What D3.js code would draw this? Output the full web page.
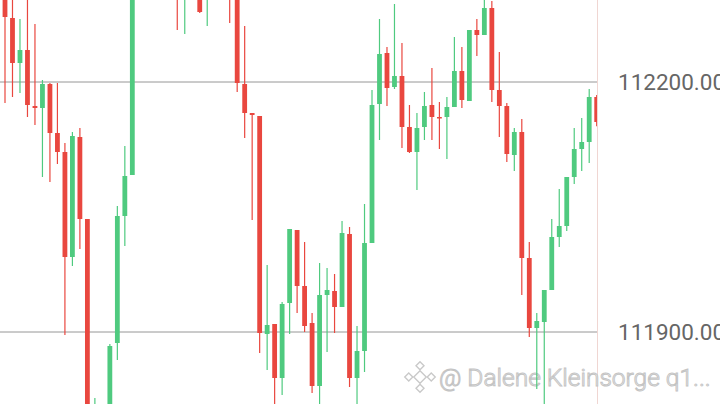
<!DOCTYPE html>
<html>
<head>
<meta charset="utf-8">
<script src="https://cdn.jsdelivr.net/npm/d3@7"></script>
<style>
  html, body { margin: 0; padding: 0; background: #fff; }
  svg { display: block; }
</style>
</head>
<body>
<svg id="chart"></svg>
<script>
// candle index, then open / high / low / close
var opens  = [112310.4,112276.8,112222.8,112238.4,112171.2,112168.8,112197.6,112138.8,112116.0,111990.0,
              112134.0,112035.6,111734.4,111782.4,111794.4,111886.8,112039.2,112088.4,112346.4,112382.4,
              112364.4,112394.4,112370.4,112346.4,112304.4,112334.4,112358.4,112304.4,112334.4,112352.4,
              112322.4,112304.4,112197.6,112162.8,112159.2,111897.6,111909.6,111844.8,111934.8,112022.4,
              111955.2,111910.8,111835.2,111944.4,111949.2,111930.0,112017.6,111844.8,111877.2,112006.8,
              112173.6,112234.8,112194.0,112207.2,112146.0,112116.0,112146.0,112172.4,112158.0,112158.0,
              112170.0,112213.2,112177.2,112262.4,112256.4,112288.8,112190.4,112171.2,112112.4,112140.0,
              111988.8,111904.8,111912.0,111950.4,112014.0,112027.2,112086.0,112119.6,112128.0,112182.0];
var highs  = [112322.4,112304.4,112275.6,112304.4,112269.6,112202.4,112198.8,112198.8,112126.8,112140.0,
              112144.8,112035.6,111820.8,111808.8,111885.6,112051.2,112123.2,112370.4,112400.4,112406.4,
              112412.4,112418.4,112388.4,112370.4,112358.4,112382.4,112370.4,112352.4,112370.4,112364.4,
              112334.4,112316.4,112267.2,112162.8,112159.2,111980.4,111909.6,111936.0,112023.6,112022.4,
              112008.0,111922.8,111982.8,111976.8,111969.6,112033.2,112026.0,111907.2,112053.6,112190.4,
              112275.6,112242.0,112293.6,112246.8,112172.4,112162.8,112188.0,112216.8,112176.0,112182.0,
              112254.0,112242.0,112262.4,112275.6,112300.8,112297.2,112236.0,112174.8,112144.8,112155.6,
              112008.0,111922.8,111950.4,112035.6,112071.6,112086.0,112144.8,112156.8,112191.6,112184.4];
var lows   = [112174.8,112182.0,112186.8,112158.0,112148.4,112086.0,112080.0,112101.6,111896.4,111979.2,
              111999.6,111722.4,111722.4,111746.4,111770.4,111866.4,112003.2,112088.4,112328.4,112352.4,
              112346.4,112358.4,112310.4,112262.4,112257.6,112310.4,112282.8,112267.2,112316.4,112308.0,
              112270.8,112188.0,112132.8,112034.4,111874.8,111854.4,111800.4,111824.4,111897.6,111922.8,
              111900.0,111826.8,111800.4,111876.0,111898.8,111930.0,111834.0,111794.4,111852.0,112006.8,
              112130.4,112171.2,112191.6,112120.8,112114.8,112070.4,112130.4,112130.4,112119.6,112107.6,
              112170.0,112168.8,112177.2,112231.2,112256.4,112176.0,112134.0,112104.0,112093.2,111944.4,
              111894.0,111831.6,111800.4,111950.4,112002.0,112021.2,112077.6,112093.2,112102.8,112146.8];
var closes = [112278.0,112222.8,112238.4,112172.4,112168.8,112197.6,112138.8,112116.0,111990.0,112135.2,
              112035.6,111734.4,111806.4,111800.4,111883.2,112039.2,112087.2,112346.4,112382.4,112364.4,
              112394.4,112370.4,112346.4,112304.4,112334.4,112358.4,112284.0,112334.4,112352.4,112322.4,
              112304.4,112198.8,112162.8,112160.4,111898.8,111908.4,111844.8,111933.6,112023.6,111955.2,
              111907.2,111835.2,111944.4,111950.4,111930.0,112018.8,111844.8,111877.2,112006.8,112172.4,
              112233.6,112192.8,112207.2,112146.0,112116.0,112144.8,112171.2,112158.0,112156.8,112170.0,
              112213.2,112178.4,112262.4,112256.4,112288.8,112190.4,112171.2,112113.6,112140.0,111988.8,
              111904.8,111913.2,111950.4,112014.0,112027.2,112086.0,112119.6,112128.0,112182.0,112152.0];
var priceTicks = [111900, 112200];
var watermark = '@ Dalene Kleinsorge q1...';

var width = 720, height = 404;
var plotRight = 597;
var upColor = '#4fca7f', downColor = '#e9473f';

var candles = opens.map(function(o, i) {
  return {i: i, open: o, high: highs[i], low: lows[i], close: closes[i]};
});

var x = d3.scaleLinear().domain([0, candles.length - 1]).range([5, 596.7]);
var y = d3.scaleLinear().domain([111900, 112200]).range([332, 82]);
var bodyW = 4.8;

var svg = d3.select('#chart')
    .attr('width', width)
    .attr('height', height);

svg.append('defs').append('clipPath')
    .attr('id', 'plot')
  .append('rect')
    .attr('x', 0).attr('y', 0)
    .attr('width', plotRight).attr('height', height);

// grid lines
svg.append('g')
  .selectAll('line')
  .data(priceTicks)
  .enter()
  .append('line')
    .attr('x1', 0).attr('x2', plotRight)
    .attr('y1', d => y(d)).attr('y2', d => y(d))
    .attr('stroke', '#969696')
    .attr('stroke-width', 1);

// right border of plot area
svg.append('line')
    .attr('x1', plotRight + 0.5).attr('x2', plotRight + 0.5)
    .attr('y1', 0).attr('y2', height)
    .attr('stroke', '#f0d6d2')
    .attr('stroke-width', 1);

// watermark
var wm = svg.append('g').attr('class', 'watermark');
var logo = wm.append('g').attr('transform', 'translate(420,377) scale(1.25)');
[[0, 0, 5], [0, -9, 3.2], [0, 9, 3.2], [-9, 0, 3.2], [9, 0, 3.2]].forEach(function(p) {
  logo.append('path')
      .attr('d', 'M' + p[0] + ',' + (p[1] - p[2]) + 'L' + (p[0] + p[2]) + ',' + p[1] +
                 'L' + p[0] + ',' + (p[1] + p[2]) + 'L' + (p[0] - p[2]) + ',' + p[1] + 'Z')
      .attr('fill', '#fff')
      .attr('stroke', '#c9c9c9')
      .attr('stroke-width', 1.1);
});
wm.append('text')
    .attr('x', 439)
    .attr('y', 386)
    .attr('font-family', 'Roboto, sans-serif')
    .attr('font-size', 24.5)
    .attr('font-weight', 300)
    .attr('fill', '#fff')
    .attr('stroke', '#c4c4c4')
    .attr('stroke-width', 1)
    .text(watermark);

// candles
var g = svg.append('g').attr('clip-path', 'url(#plot)');
var candle = g.selectAll('.candle')
  .data(candles)
  .enter()
  .append('g')
    .classed('candle', true)
    .attr('fill', d => d.close >= d.open ? upColor : downColor)
    .attr('stroke', d => d.close >= d.open ? upColor : downColor);

candle.append('line')
    .attr('x1', d => x(d.i)).attr('x2', d => x(d.i))
    .attr('y1', d => y(d.high)).attr('y2', d => y(d.low))
    .attr('stroke-width', 1.2);

candle.append('rect')
    .attr('x', d => x(d.i) - bodyW / 2)
    .attr('width', bodyW)
    .attr('y', d => y(Math.max(d.open, d.close)))
    .attr('height', d => Math.max(1.5, Math.abs(y(d.open) - y(d.close))))
    .attr('stroke', 'none');

// price axis
var axis = d3.axisRight(y)
    .tickValues(priceTicks)
    .tickFormat(d3.format('.2f'))
    .tickSize(0)
    .tickPadding(21);

svg.append('g')
    .attr('transform', 'translate(' + plotRight + ',0)')
    .call(axis)
    .call(g => g.select('.domain').remove())
    .selectAll('text')
      .attr('font-family', 'Roboto, sans-serif')
      .attr('font-size', 22.5)
      .attr('fill', '#666');
</script>
</body>
</html>
